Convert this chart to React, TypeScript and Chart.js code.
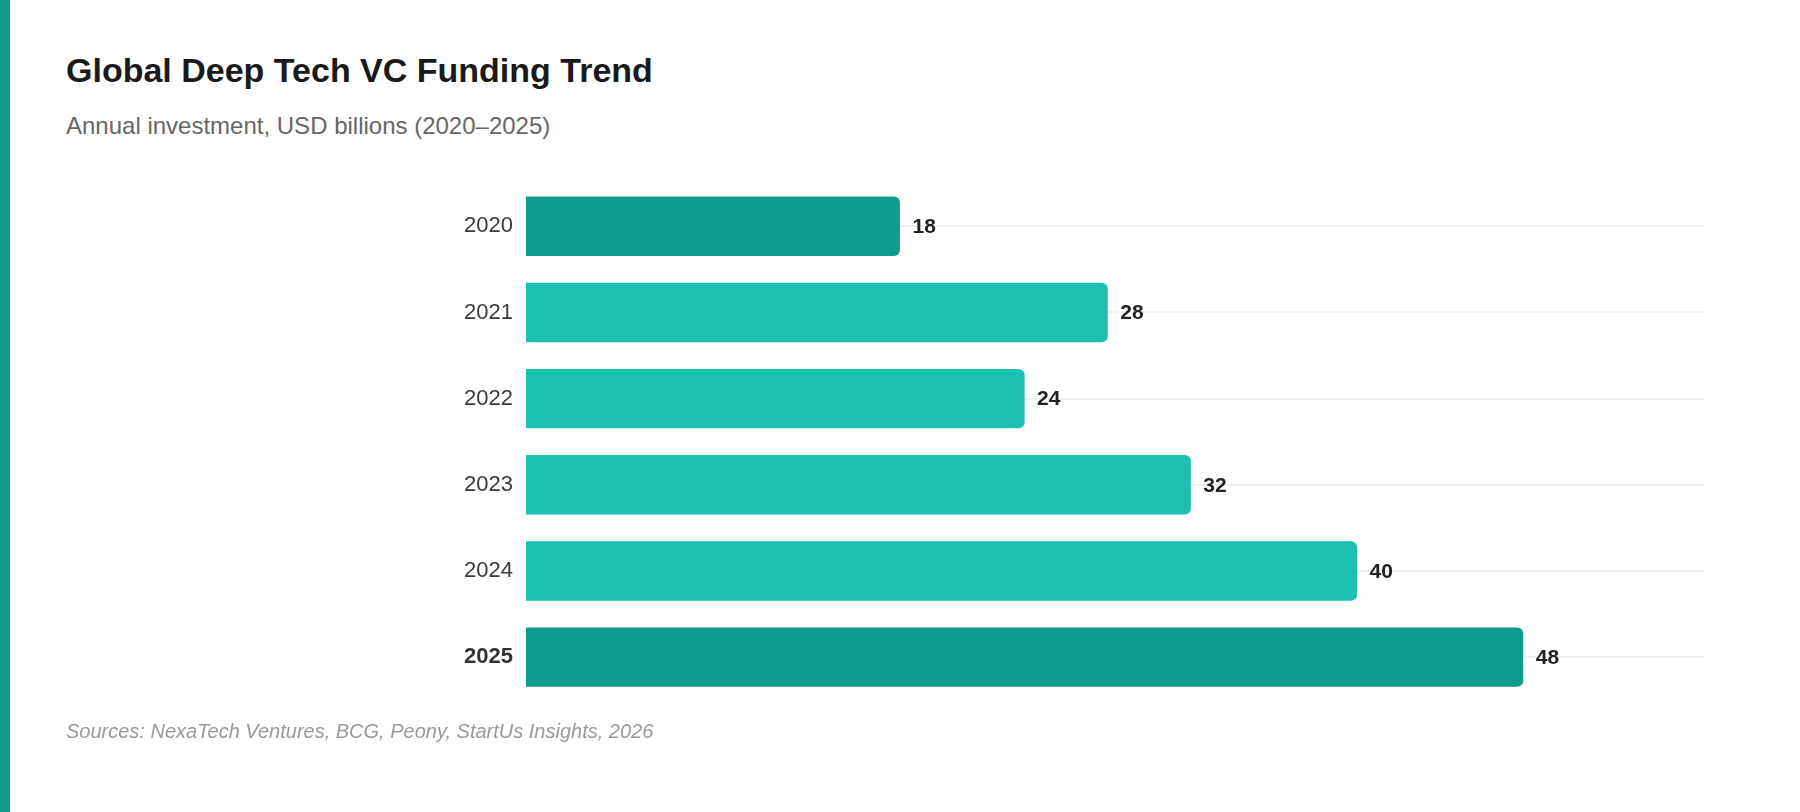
import React, { useEffect, useRef } from "react";
import { Chart, registerables } from "chart.js";

Chart.register(...registerables);

const TITLE = "Global Deep Tech VC Funding Trend";
const SUBTITLE = "Annual investment, USD billions (2020–2025)";
const SOURCES = "Sources: NexaTech Ventures, BCG, Peony, StartUs Insights, 2026";

const years = ["2020", "2021", "2022", "2023", "2024", "2025"];
const funding = [18, 28, 24, 32, 40, 48];
const highlighted = [true, false, false, false, false, true];
const X_MAX = 56.7;

const DARK = "#109b8e";
const LIGHT = "#1dbfb0";
const FONT = "'Liberation Sans', Arial, Helvetica, sans-serif";

const valueLabels = {
  id: "valueLabels",
  afterDatasetsDraw(chart: any) {
    const ctx = chart.ctx;
    const meta = chart.getDatasetMeta(0);
    ctx.save();
    ctx.font = `bold 21px ${FONT}`;
    ctx.fillStyle = "#222222";
    ctx.textAlign = "left";
    ctx.textBaseline = "middle";
    meta.data.forEach((bar: any, i: number) => {
      ctx.fillText(String(funding[i]), bar.x + 12.5, bar.y + 1);
    });
    ctx.restore();
  },
};

function BarChart() {
  const ref = useRef<HTMLCanvasElement | null>(null);
  useEffect(() => {
    if (!ref.current) return;
    Chart.defaults.font.family = FONT;
    const chart = new Chart(ref.current, {
      type: "bar",
      data: {
        labels: years,
        datasets: [
          {
            data: funding,
            backgroundColor: highlighted.map((h) => (h ? DARK : LIGHT)),
            borderRadius: 6,
            borderSkipped: "start",
            barPercentage: 0.69,
            categoryPercentage: 1,
          },
        ],
      },
      options: {
        indexAxis: "y",
        animation: false,
        responsive: true,
        maintainAspectRatio: false,
        layout: { padding: 0 },
        plugins: {
          legend: { display: false },
          tooltip: { enabled: false },
          title: { display: false },
        },
        scales: {
          x: {
            type: "linear",
            min: 0,
            max: X_MAX,
            display: false,
          },
          y: {
            grid: {
              offset: false,
              color: "#f1f1ee",
              lineWidth: 2,
              drawTicks: false,
            },
            border: { display: false },
            ticks: {
              padding: 13,
              color: (c: any) => (c.index === years.length - 1 ? "#333333" : "#3a3a3a"),
              font: (c: any) => ({
                size: 22,
                weight: c.index === years.length - 1 ? "bold" : "normal",
                family: FONT,
              }),
            },
            afterFit(scale: any) {
              scale.width = 226;
            },
          },
        },
      },
      plugins: [valueLabels],
    } as any);
    return () => chart.destroy();
  }, []);
  return <canvas ref={ref} />;
}

export default function App() {
  return (
    <div
      style={{
        position: "fixed",
        left: 0,
        top: 0,
        width: 1800,
        height: 812,
        background: "#ffffff",
        fontFamily: FONT,
        overflow: "hidden",
      }}
    >
      <div style={{ position: "absolute", left: 0, top: 0, width: 10, height: 812, background: DARK }} />
      <div
        style={{
          position: "absolute",
          left: 66,
          top: 51,
          fontSize: 34,
          fontWeight: "bold",
          color: "#1a1a1a",
          whiteSpace: "nowrap",
          lineHeight: "normal",
        }}
      >
        {TITLE}
      </div>
      <div
        style={{
          position: "absolute",
          left: 66,
          top: 112,
          fontSize: 24,
          color: "#666666",
          whiteSpace: "nowrap",
          lineHeight: "normal",
        }}
      >
        {SUBTITLE}
      </div>
      <div style={{ position: "absolute", left: 300, top: 156.8, width: 1404, height: 569.4 }}>
        <BarChart />
      </div>
      <div
        style={{
          position: "absolute",
          left: 66,
          top: 720,
          fontSize: 20,
          fontStyle: "italic",
          color: "#999999",
          whiteSpace: "nowrap",
          lineHeight: "normal",
        }}
      >
        {SOURCES}
      </div>
    </div>
  );
}
